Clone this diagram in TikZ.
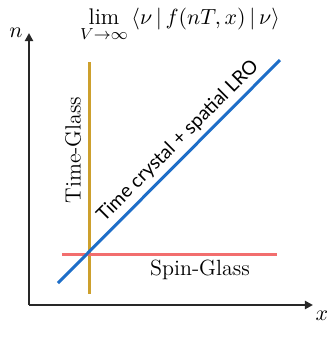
\documentclass[tikz,border=0pt]{standalone}
\usepackage{fontspec}
\newfontfamily\labelsans{Lato}
\usetikzlibrary{arrows.meta}
\definecolor{goldline}{RGB}{205,160,45}
\definecolor{blueline}{RGB}{30,110,200}
\definecolor{redline}{RGB}{242,110,110}
\definecolor{axisgray}{RGB}{40,40,40}
\tikzset{
  axis/.style={draw=axisgray, line width=1pt, -{Triangle[length=4pt,width=4pt]}},
  phase/.style={line width=1.5pt},
  lbl/.style={inner sep=0pt, font=\fontsize{11}{13}\selectfont},
}
\begin{document}
\begin{tikzpicture}[x=0.5pt,y=-0.5pt]
\useasboundingbox (0,0) rectangle (332,344);
% axes
\coordinate (o) at (29,305);
\coordinate (ytip) at (29,33);
\coordinate (xtip) at (313,305);
\draw[axis] (o) -- (ytip);
\draw[axis] (o) -- (xtip);
\node[lbl] (nlab) at (16,33) {$n$};
\node[lbl] (xlab) at (322,316) {$x$};
% phase lines
\coordinate (gtop) at (90,62);
\coordinate (gbot) at (90,294);
\coordinate (rl) at (62,254);
\coordinate (rr) at (277,254);
\coordinate (bl) at (58,283);
\coordinate (br) at (280,60);
\draw[phase, draw=goldline] (gtop) -- (gbot);
\draw[phase, draw=redline] (rl) -- (rr);
\draw[phase, draw=blueline] (bl) -- (br);
% labels
\node[lbl, rotate=90] (tg) at (73,150) {Time-Glass};
\node[lbl] (sg) at (200,270) {Spin-Glass};
\node[inner sep=0pt, rotate=45, font=\labelsans\fontsize{9.6}{11}\selectfont] (tc) at (178,141) {Time crystal + spatial LRO};
\node[inner sep=0pt, anchor=north, font=\fontsize{11.3}{14}\selectfont] (title) at (180,8) {$\displaystyle\lim_{V\to\infty}\,\langle\nu\,|\,f(nT,x)\,|\,\nu\rangle$};
\end{tikzpicture}
\end{document}
